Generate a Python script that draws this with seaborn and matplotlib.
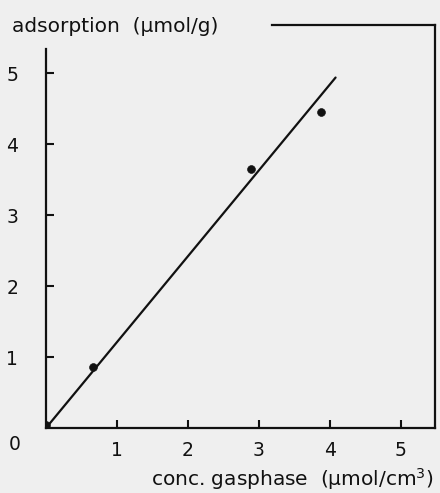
import matplotlib
matplotlib.use("Agg")
import matplotlib.pyplot as plt
import seaborn as sns
import pandas as pd

conc = [0.0, 0.66, 2.89, 3.87]
adsorption = [0.04, 0.86, 3.65, 4.46]

# fitted straight line
fit_conc = [0.0, 4.08]
fit_ads = [0.0, 4.94]

x_ticks = [1, 2, 3, 4, 5]
y_ticks = [1, 2, 3, 4, 5]

bg = "#efefef"
ink = "#111111"

sns.set_theme(style="ticks", rc={
    "xtick.direction": "in", "ytick.direction": "in",
    "xtick.major.size": 6, "ytick.major.size": 6,
    "xtick.major.width": 1.5, "ytick.major.width": 1.5,
    "xtick.major.pad": 9, "ytick.major.pad": 20,
    "xtick.color": ink, "ytick.color": ink,
    "xtick.labelsize": 13.5, "ytick.labelsize": 13.5,
    "axes.edgecolor": ink, "axes.linewidth": 1.6,
    "axes.axisbelow": False,
})
plt.rcParams["font.family"] = ["DejaVu Sans"]

fig = plt.figure(figsize=(4.4, 4.93), dpi=100, facecolor=bg)
ax = fig.add_axes([0.1045, 0.1318, 0.884, 0.8174])
ax.set_facecolor(bg)

pts = pd.DataFrame({"conc": conc, "ads": adsorption})
fit = pd.DataFrame({"conc": fit_conc, "ads": fit_ads})

sns.lineplot(data=fit, x="conc", y="ads", ax=ax, color=ink, linewidth=1.6)
sns.scatterplot(data=pts, x="conc", y="ads", ax=ax, color=ink, s=32,
                edgecolor=ink, zorder=3)

ax.set_xlim(0, 5.48)
ax.set_ylim(0, 5.68)
ax.set_xticks(x_ticks)
ax.set_yticks(y_ticks)
ax.set_axisbelow(False)

ax.spines["left"].set_bounds(0, 5.34)
ax.spines["top"].set_bounds(3.18, 5.48)

ax.set_xlabel("")
ax.set_ylabel("")

# make sure the short inward ticks on the left/bottom get drawn
for tick in ax.xaxis.get_major_ticks():
    tick.tick1line.set_visible(True)
    tick.tick2line.set_visible(False)
    tick.tick1line.set_color(ink)
    tick.tick1line.set_markersize(6)
    tick.tick1line.set_markeredgewidth(1.5)
    tick.tick1line.set_zorder(5)
for tick in ax.yaxis.get_major_ticks():
    tick.tick1line.set_visible(True)
    tick.tick2line.set_visible(False)
    tick.tick1line.set_color(ink)
    tick.tick1line.set_markersize(6)
    tick.tick1line.set_markeredgewidth(1.5)
    tick.tick1line.set_zorder(5)
ax.xaxis.set_zorder(4)
ax.yaxis.set_zorder(4)

fig.text(12 / 440, 1 - 26 / 493, "adsorption  (µmol/g)", fontsize=14.5,
         color=ink, ha="left", va="center")
fig.text(434 / 440, 1 - 479 / 493, "conc. gasphase  (µmol/cm$^3$)",
         fontsize=14.5, color=ink, ha="right", va="center")
fig.text(15 / 440, 1 - 445 / 493, "0", fontsize=13.5, color=ink,
         ha="center", va="center")

fig.savefig("out.png", dpi=100, facecolor=bg)
